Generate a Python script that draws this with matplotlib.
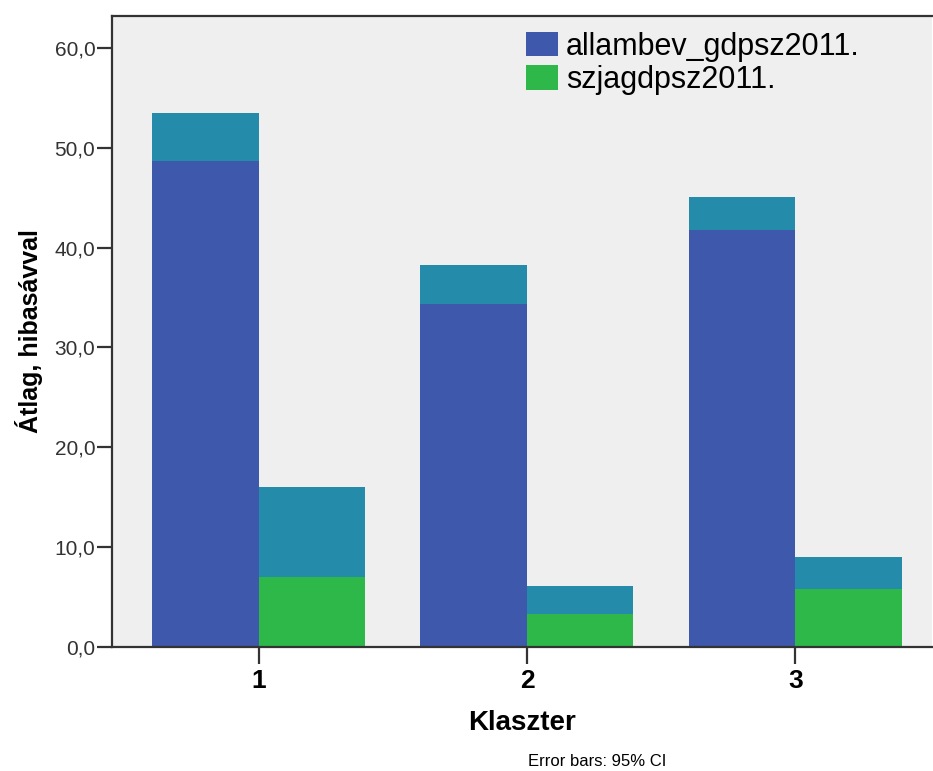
import matplotlib
matplotlib.use("Agg")
import matplotlib.pyplot as plt
from matplotlib.patches import Patch
from matplotlib.ticker import FuncFormatter

clusters = ["1", "2", "3"]
series = ["allambev_gdpsz2011.", "szjagdpsz2011."]
# 95% CI lower / upper bounds
allambev_lo = [48.7, 34.4, 41.8]
allambev_hi = [53.5, 38.3, 45.1]
szja_lo = [7.0, 3.3, 5.8]
szja_hi = [16.0, 6.1, 9.0]

blue = "#3e58ac"
green = "#2eb84a"
teal = "#258bab"

plt.rcParams['font.family'] = ['Liberation Sans', 'DejaVu Sans']

fig = plt.figure(figsize=(9.33, 7.71), dpi=100)
ax = fig.add_axes([0.120, 0.161, 0.879, 0.818])
ax.set_facecolor("#efefef")

x = [1, 2, 3]
w = 0.397
xb = [i - w / 2 for i in x]
xg = [i + w / 2 for i in x]

allambev_mean = [(a + b) / 2 for a, b in zip(allambev_lo, allambev_hi)]
szja_mean = [(a + b) / 2 for a, b in zip(szja_lo, szja_hi)]

ax.bar(xb, allambev_mean, width=w, color=blue, zorder=2)
ax.bar(xg, szja_mean, width=w, color=green, zorder=2)
# error band drawn as a filled box from lower to upper bound
ax.bar(xb, [h - l for l, h in zip(allambev_lo, allambev_hi)], bottom=allambev_lo,
       width=w, color=teal, zorder=3)
ax.bar(xg, [h - l for l, h in zip(szja_lo, szja_hi)], bottom=szja_lo,
       width=w, color=teal, zorder=3)

ax.set_xlim(0.453, 3.51)
ax.set_ylim(0, 63.2)
ax.set_yticks([0, 10, 20, 30, 40, 50, 60])
ax.yaxis.set_major_formatter(FuncFormatter(lambda v, p: f"{v:.1f}".replace(".", ",")))
ax.set_xticks(x)
ax.set_xticklabels(clusters, fontsize=19, fontweight="bold")

for s in ["left", "top", "bottom"]:
    ax.spines[s].set_color("#333333")
    ax.spines[s].set_linewidth(1.6)
ax.spines["right"].set_visible(False)
ax.tick_params(axis="y", length=11, width=1.6, color="#333333", labelsize=15,
               labelcolor="#333333", pad=1)
ax.tick_params(axis="x", length=12, width=1.6, color="#333333", pad=4)

ax.set_ylabel("Átlag, hibasávval", fontsize=18, fontweight="bold", labelpad=8)
ax.set_xlabel("Klaszter", fontsize=20, fontweight="bold", labelpad=12)

handles = [Patch(facecolor=blue), Patch(facecolor=green)]
ax.legend(handles, series, loc="upper left", bbox_to_anchor=(0.49, 0.995),
          frameon=False, fontsize=22, handlelength=1.05, handleheight=0.85,
          handletextpad=0.25, labelspacing=0.12, borderaxespad=0)

fig.text(0.64, 0.003, "Error bars: 95% CI", fontsize=12, ha="center", va="bottom")

fig.savefig("out.png", dpi=100)
